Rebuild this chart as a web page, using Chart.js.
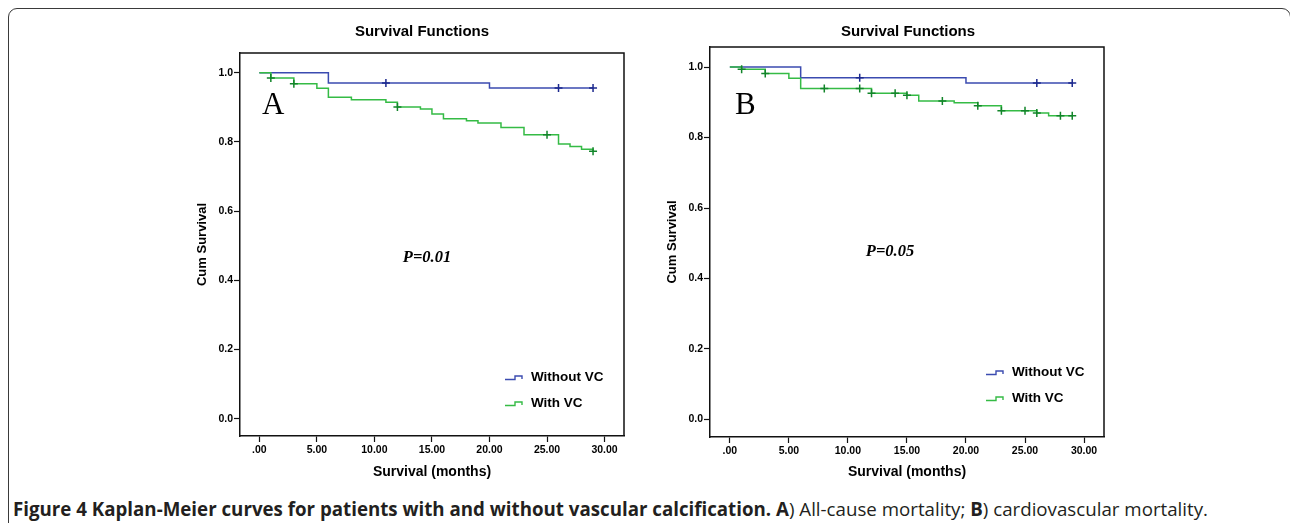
<!DOCTYPE html>
<html><head><meta charset="utf-8">
<script src="https://cdn.jsdelivr.net/npm/chart.js@4"></script>
<style>
html,body{margin:0;padding:0;background:#fff;width:1290px;height:523px;overflow:hidden;position:relative}
#frame{position:absolute;left:8px;top:8px;width:1283px;height:560px;box-sizing:border-box;border:1.6px solid #3a3a3a;border-radius:9px}
canvas{position:absolute}
#cap{position:absolute;left:13px;top:500px;white-space:nowrap;font-family:"Open Sans",sans-serif;font-size:19px;line-height:19px;color:#231f20;transform-origin:0 0}
#cap b{font-weight:700}
</style></head><body>
<div id="frame"></div>
<canvas id="cA" width="460" height="490" style="left:180px;top:0"></canvas>
<canvas id="cB" width="470" height="491" style="left:650px;top:0"></canvas>
<div id="cap"><b>Figure 4 Kaplan-Meier curves for patients with and without vascular calcification. A</b>) All-cause mortality; <b>B</b>) cardiovascular mortality.</div>
<script>
// ---------- data ----------
const groups = ['Without VC', 'With VC'];
const xTicks = [0, 5, 10, 15, 20, 25, 30];
const yTicks = [0, 0.2, 0.4, 0.6, 0.8, 1.0];

// Panel A: all-cause mortality
const aWithoutT = [0, 6, 20, 29];
const aWithoutS = [1.000, 0.970, 0.956, 0.956];
const aWithoutCens = [11, 26, 29];
const aWithT = [0, 1, 3, 5, 6, 8, 11, 12, 14, 15, 16, 18, 19, 21, 23, 26, 27, 28, 29];
const aWithS = [1.000, 0.985, 0.968, 0.955, 0.929, 0.922, 0.915, 0.901, 0.895, 0.881, 0.867, 0.861, 0.855, 0.842, 0.821, 0.794, 0.787, 0.779, 0.773];
const aWithCens = [1, 3, 12, 25, 29];

// Panel B: cardiovascular mortality
const bWithoutT = [0, 6, 20, 29];
const bWithoutS = [1.000, 0.970, 0.955, 0.955];
const bWithoutCens = [11, 26, 29];
const bWithT = [0, 1, 3, 5, 6, 12, 15, 16, 19, 21, 23, 26, 27, 29];
const bWithS = [1.000, 0.994, 0.982, 0.968, 0.939, 0.926, 0.920, 0.904, 0.899, 0.890, 0.876, 0.870, 0.862, 0.862];
const bWithCens = [1, 3, 8, 11, 12, 14, 15, 18, 21, 23, 25, 26, 28, 29];

const pLabels = ['P=0.01', 'P=0.05'];
const panelLetters = ['A', 'B'];
const chartTitle = 'Survival Functions';

// ---------- styles ----------
const FAM = '"Liberation Sans", Arial, sans-serif';
const blue = '#3b4bb0', green = '#35bb45';
const markBlue = '#1d2a8f', markGreen = '#12852a';

function km(T, S) { return T.map((t, i) => ({x: t, y: S[i]})); }
function stepValue(T, S, t) { let v = S[0]; for (let i = 0; i < T.length; i++) if (T[i] <= t) v = S[i]; return v; }
function cens(T, S, C) { return C.map(c => ({x: c, y: stepValue(T, S, c)})); }

const deco = {
  id: 'deco',
  afterDraw(chart, args, o) {
    const ctx = chart.ctx, a = chart.chartArea;
    ctx.save();
    ctx.strokeStyle = '#111'; ctx.lineWidth = 1.5;
    ctx.beginPath(); ctx.moveTo(a.left, a.top); ctx.lineTo(a.right, a.top); ctx.lineTo(a.right, a.bottom); ctx.stroke();
    ctx.fillStyle = '#000'; ctx.textBaseline = 'middle';
    ctx.font = 'bold 15px ' + FAM; ctx.textAlign = 'center';
    ctx.fillText(chartTitle, o.titleX, o.titleY);
    ctx.font = '31px "Liberation Serif", "Times New Roman", serif'; ctx.textAlign = 'left';
    ctx.fillText(o.letter, o.letterX, o.letterY);
    ctx.font = 'italic bold 16.5px "Liberation Serif", "Times New Roman", serif'; ctx.textAlign = 'center';
    ctx.fillText(o.p, o.pX, o.pY);
    // legend
    const cols = [blue, green];
    ctx.font = 'bold 13.5px ' + FAM; ctx.textAlign = 'left';
    groups.forEach((g, i) => {
      const x = o.legX, y = o.legY[i];
      ctx.strokeStyle = cols[i]; ctx.lineWidth = 1.4;
      ctx.beginPath();
      ctx.moveTo(x, y + 2.5); ctx.lineTo(x + 10, y + 2.5); ctx.lineTo(x + 10, y - 1); ctx.lineTo(x + 17, y - 1); ctx.lineTo(x + 17, y + 2);
      ctx.stroke();
      ctx.fillStyle = '#000';
      ctx.fillText(g, x + 26, y);
    });
    ctx.restore();
  }
};

function makeChart(id, T1, S1, C1, T2, S2, C2, st) {
  return new Chart(document.getElementById(id), {
    type: 'line',
    data: {datasets: [
      {label: groups[0] + ' censored', type: 'scatter', data: cens(T1, S1, C1), pointStyle: 'cross', pointRadius: 4, pointHoverRadius: 4, borderColor: markBlue, backgroundColor: markBlue, borderWidth: 1.5, showLine: false, order: 0},
      {label: groups[1] + ' censored', type: 'scatter', data: cens(T2, S2, C2), pointStyle: 'cross', pointRadius: 4, pointHoverRadius: 4, borderColor: markGreen, backgroundColor: markGreen, borderWidth: 1.5, showLine: false, order: 1},
      {label: groups[1], data: km(T2, S2), stepped: true, borderColor: green, borderWidth: 1.5, pointRadius: 0, fill: false, order: 2},
      {label: groups[0], data: km(T1, S1), stepped: true, borderColor: blue, borderWidth: 1.5, pointRadius: 0, fill: false, order: 3}
    ]},
    options: {
      responsive: false, animation: false, devicePixelRatio: 1,
      layout: {padding: {left: 0, right: st.padRight, top: st.padTop, bottom: 0}},
      plugins: {legend: {display: false}, tooltip: {enabled: false}, deco: st.deco},
      scales: {
        x: {
          type: 'linear', min: -1.68, max: 31.69,
          afterBuildTicks: s => { s.ticks = xTicks.map(v => ({value: v})); },
          afterFit: s => { s.height = st.xH; },
          ticks: {callback: v => v === 0 ? '.00' : Number(v).toFixed(2), font: {family: FAM, size: 10.5, weight: 'bold'}, color: '#000', padding: 2, maxRotation: 0, autoSkip: false},
          grid: {display: true, drawOnChartArea: false, drawTicks: true, tickLength: 6, tickColor: '#111', tickWidth: 1.2},
          border: {display: true, color: '#111', width: 1.5},
          title: {display: true, text: 'Survival (months)', font: {family: FAM, size: 14, weight: 'bold'}, color: '#000', padding: {top: 0, bottom: st.xTitlePad}}
        },
        y: {
          type: 'linear', min: -0.05, max: 1.057,
          afterBuildTicks: s => { s.ticks = yTicks.map(v => ({value: v})); },
          afterFit: s => { s.width = st.yW; },
          ticks: {callback: v => Number(v).toFixed(1), font: {family: FAM, size: 10.5, weight: 'bold'}, color: '#000', padding: 1, autoSkip: false},
          grid: {display: true, drawOnChartArea: false, drawTicks: true, tickLength: 6, tickColor: '#111', tickWidth: 1.2},
          border: {display: true, color: '#111', width: 1.5},
          title: {display: true, text: 'Cum Survival', font: {family: FAM, size: 13, weight: 'bold'}, color: '#000', padding: {top: 15, bottom: 0}}
        }
      }
    },
    plugins: [deco]
  });
}

makeChart('cA', aWithoutT, aWithoutS, aWithoutCens, aWithT, aWithS, aWithCens, {
  padRight: 16, padTop: 53, xH: 54, yW: 60, xTitlePad: 9,
  deco: {titleX: 242, titleY: 32, letter: panelLetters[0], letterX: 82, letterY: 106, p: pLabels[0], pX: 247, pY: 258, legX: 325, legY: [377, 403]}
});
makeChart('cB', bWithoutT, bWithoutS, bWithoutCens, bWithT, bWithS, bWithCens, {
  padRight: 16, padTop: 47, xH: 54, yW: 60, xTitlePad: 10,
  deco: {titleX: 258, titleY: 32, letter: panelLetters[1], letterX: 85, letterY: 106, p: pLabels[1], pX: 240, pY: 252, legX: 336, legY: [372, 398]}
});

const cap = document.getElementById('cap');
const w = cap.getBoundingClientRect().width;
cap.style.transform = 'scaleX(' + (1195 / w) + ')';
</script>
</body></html>
